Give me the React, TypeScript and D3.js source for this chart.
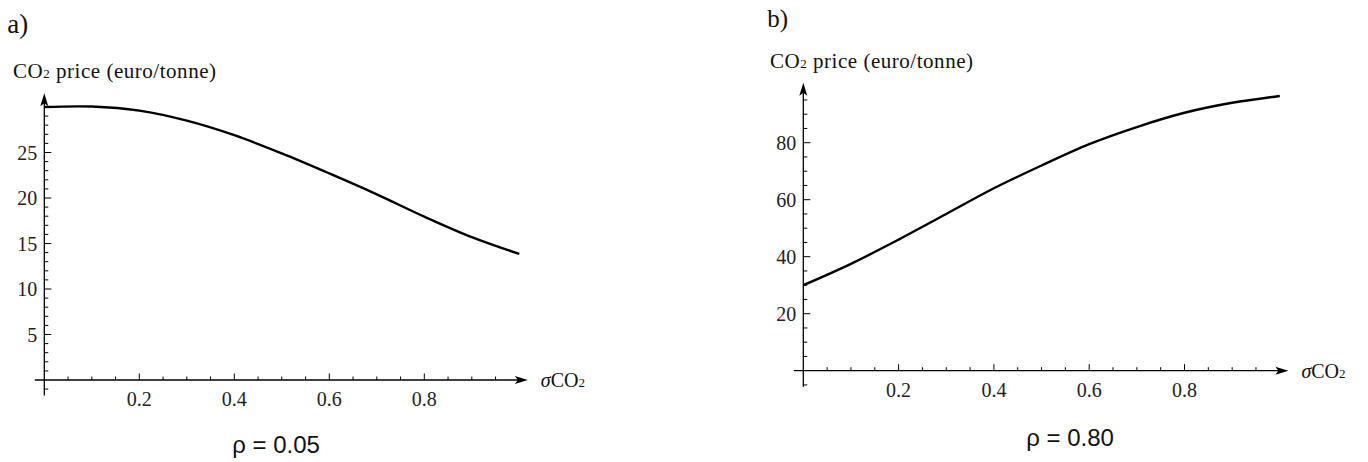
import React from "react";
import * as d3 from "d3";

// sigma CO2 values (x) shared by both panels
const sigma = [0, 0.1, 0.2, 0.3, 0.4, 0.5, 0.6, 0.7, 0.8, 0.9, 1.0];
// CO2 price, rho = 0.05
const priceLowRho = [30, 30.05, 29.6, 28.5, 26.9, 24.9, 22.7, 20.4, 17.95, 15.7, 13.85];
// CO2 price, rho = 0.80
const priceHighRho = [30, 37.5, 46, 55, 64, 72, 79.5, 85.5, 90.5, 94, 96.4];

const xMajor = [0.2, 0.4, 0.6, 0.8];
const yMajorA = [5, 10, 15, 20, 25];
const yMajorB = [20, 40, 60, 80];

const serif = "Liberation Serif, Tinos, Times New Roman, DejaVu Serif, serif";
const sans = "Liberation Sans, Arial, Helvetica, sans-serif";

type PanelProps = {
    letter: string;
    letterY: number;
    caption: string;
    captionX: number;
    captionY: number;
    values: number[];
    x0: number; // pixel pos of sigma=0
    x1: number; // pixel pos of sigma=1
    yAxisPx: number; // pixel of price=0
    yRef: number; // reference value
    yRefPx: number; // pixel of reference value
    yTop: number; // top of axis (value)
    yBottom: number;
    yMinorStep: number;
    yMinorMax: number;
    yMajor: number[];
    titleY: number;
    titleX: number;
};

const Panel = (p: PanelProps) => {
    const x = d3.scaleLinear().domain([0, 1]).range([p.x0, p.x1]);
    const y = d3.scaleLinear().domain([0, p.yRef]).range([p.yAxisPx, p.yRefPx]);

    const line = d3.line<number>()
        .x((d, i) => x(sigma[i]))
        .y(d => y(d))
        .curve(d3.curveCatmullRom.alpha(0.5));

    const xMinor = d3.range(1, 20).map(i => i * 0.05).filter(v => !xMajor.some(m => Math.abs(m - v) < 1e-6));
    const yMinor = d3.range(p.yBottom, p.yMinorMax + 0.001, p.yMinorStep)
        .map(v => Math.ceil(v))
        .filter(v => v !== 0 && !p.yMajor.includes(v));

    const xEnd = x(1.018);
    const yEnd = y(p.yTop);
    const ax = x(0);
    const ay = y(0);
    const isA = p.letter === "a)";

    return (
        <g>
            <text x={p.x0 - (isA ? 37 : 36)} y={p.letterY} fontFamily={serif} fontSize={isA ? 27 : 25} fill="#111">{p.letter}</text>
            <text x={p.titleX} y={p.titleY} fontFamily={serif} fontSize={21} fill="#111" textLength={203} lengthAdjust="spacing">
                CO<tspan fontSize={13}>2</tspan> price (euro/tonne)
            </text>

            {/* axes */}
            <line x1={x(-0.02)} x2={xEnd - 8} y1={ay} y2={ay} stroke="#000" strokeWidth={1.3}/>
            <path d={`M${xEnd},${ay} L${xEnd - 13},${ay - 4} L${xEnd - 10},${ay} L${xEnd - 13},${ay + 4} Z`} fill="#000"/>
            <line x1={ax} x2={ax} y1={y(p.yBottom)} y2={yEnd + 8} stroke="#000" strokeWidth={1.3}/>
            <path d={`M${ax},${yEnd} L${ax - 4},${yEnd + 13} L${ax},${yEnd + 10} L${ax + 4},${yEnd + 13} Z`} fill="#000"/>

            {xMinor.map(v => <line key={"xm" + v} x1={x(v)} x2={x(v)} y1={ay} y2={ay - 3.5} stroke="#000" strokeWidth={1}/>)}
            {xMajor.map(v => (
                <g key={"xM" + v}>
                    <line x1={x(v)} x2={x(v)} y1={ay} y2={ay - 6.5} stroke="#000" strokeWidth={1}/>
                    <text x={x(v)} y={ay + 26} textAnchor="middle" fontFamily={serif} fontSize={20} fill="#222">{d3.format(".1f")(v)}</text>
                </g>
            ))}
            {yMinor.map(v => <line key={"ym" + v} x1={ax} x2={ax + 4} y1={y(v)} y2={y(v)} stroke="#000" strokeWidth={1}/>)}
            {p.yMajor.map(v => (
                <g key={"yM" + v}>
                    <line x1={ax} x2={ax + 7} y1={y(v)} y2={y(v)} stroke="#000" strokeWidth={1}/>
                    <text x={ax - 7} y={y(v) + 7} textAnchor="end" fontFamily={serif} fontSize={20} fill="#222">{v}</text>
                </g>
            ))}

            <text x={xEnd + 13} y={ay + 7} fontFamily={serif} fontSize={20} fill="#111">
                <tspan fontStyle="italic">σ</tspan>CO<tspan fontSize={13}>2</tspan>
            </text>

            <path d={line(p.values) ?? ""} fill="none" stroke="#000" strokeWidth={2.4}/>

            <text x={p.captionX} y={p.captionY} textAnchor="middle" fontFamily={sans} fontSize={24} fill="#111">{p.caption}</text>
        </g>
    );
};

const App = () => {
    return (
        <svg width={1368} height={462} style={{position: "absolute", left: 0, top: 0, background: "#fff"}}>
            <Panel letter="a)" letterY={33} caption="ρ = 0.05" captionX={276} captionY={453}
                   values={priceLowRho} x0={44.3} x1={519.3} yAxisPx={380} yRef={25} yRefPx={152.5}
                   yTop={31.5} yBottom={-1.7} yMinorStep={1} yMinorMax={29} yMajor={yMajorA}
                   titleX={13} titleY={78}/>
            <Panel letter="b)" letterY={27} caption="ρ = 0.80" captionX={1070} captionY={446}
                   values={priceHighRho} x0={803.3} x1={1279.8} yAxisPx={370.7} yRef={80} yRefPx={142.7}
                   yTop={101} yBottom={-5.6} yMinorStep={5} yMinorMax={95} yMajor={yMajorB}
                   titleX={770} titleY={68}/>
        </svg>
    );
};

export default App;
